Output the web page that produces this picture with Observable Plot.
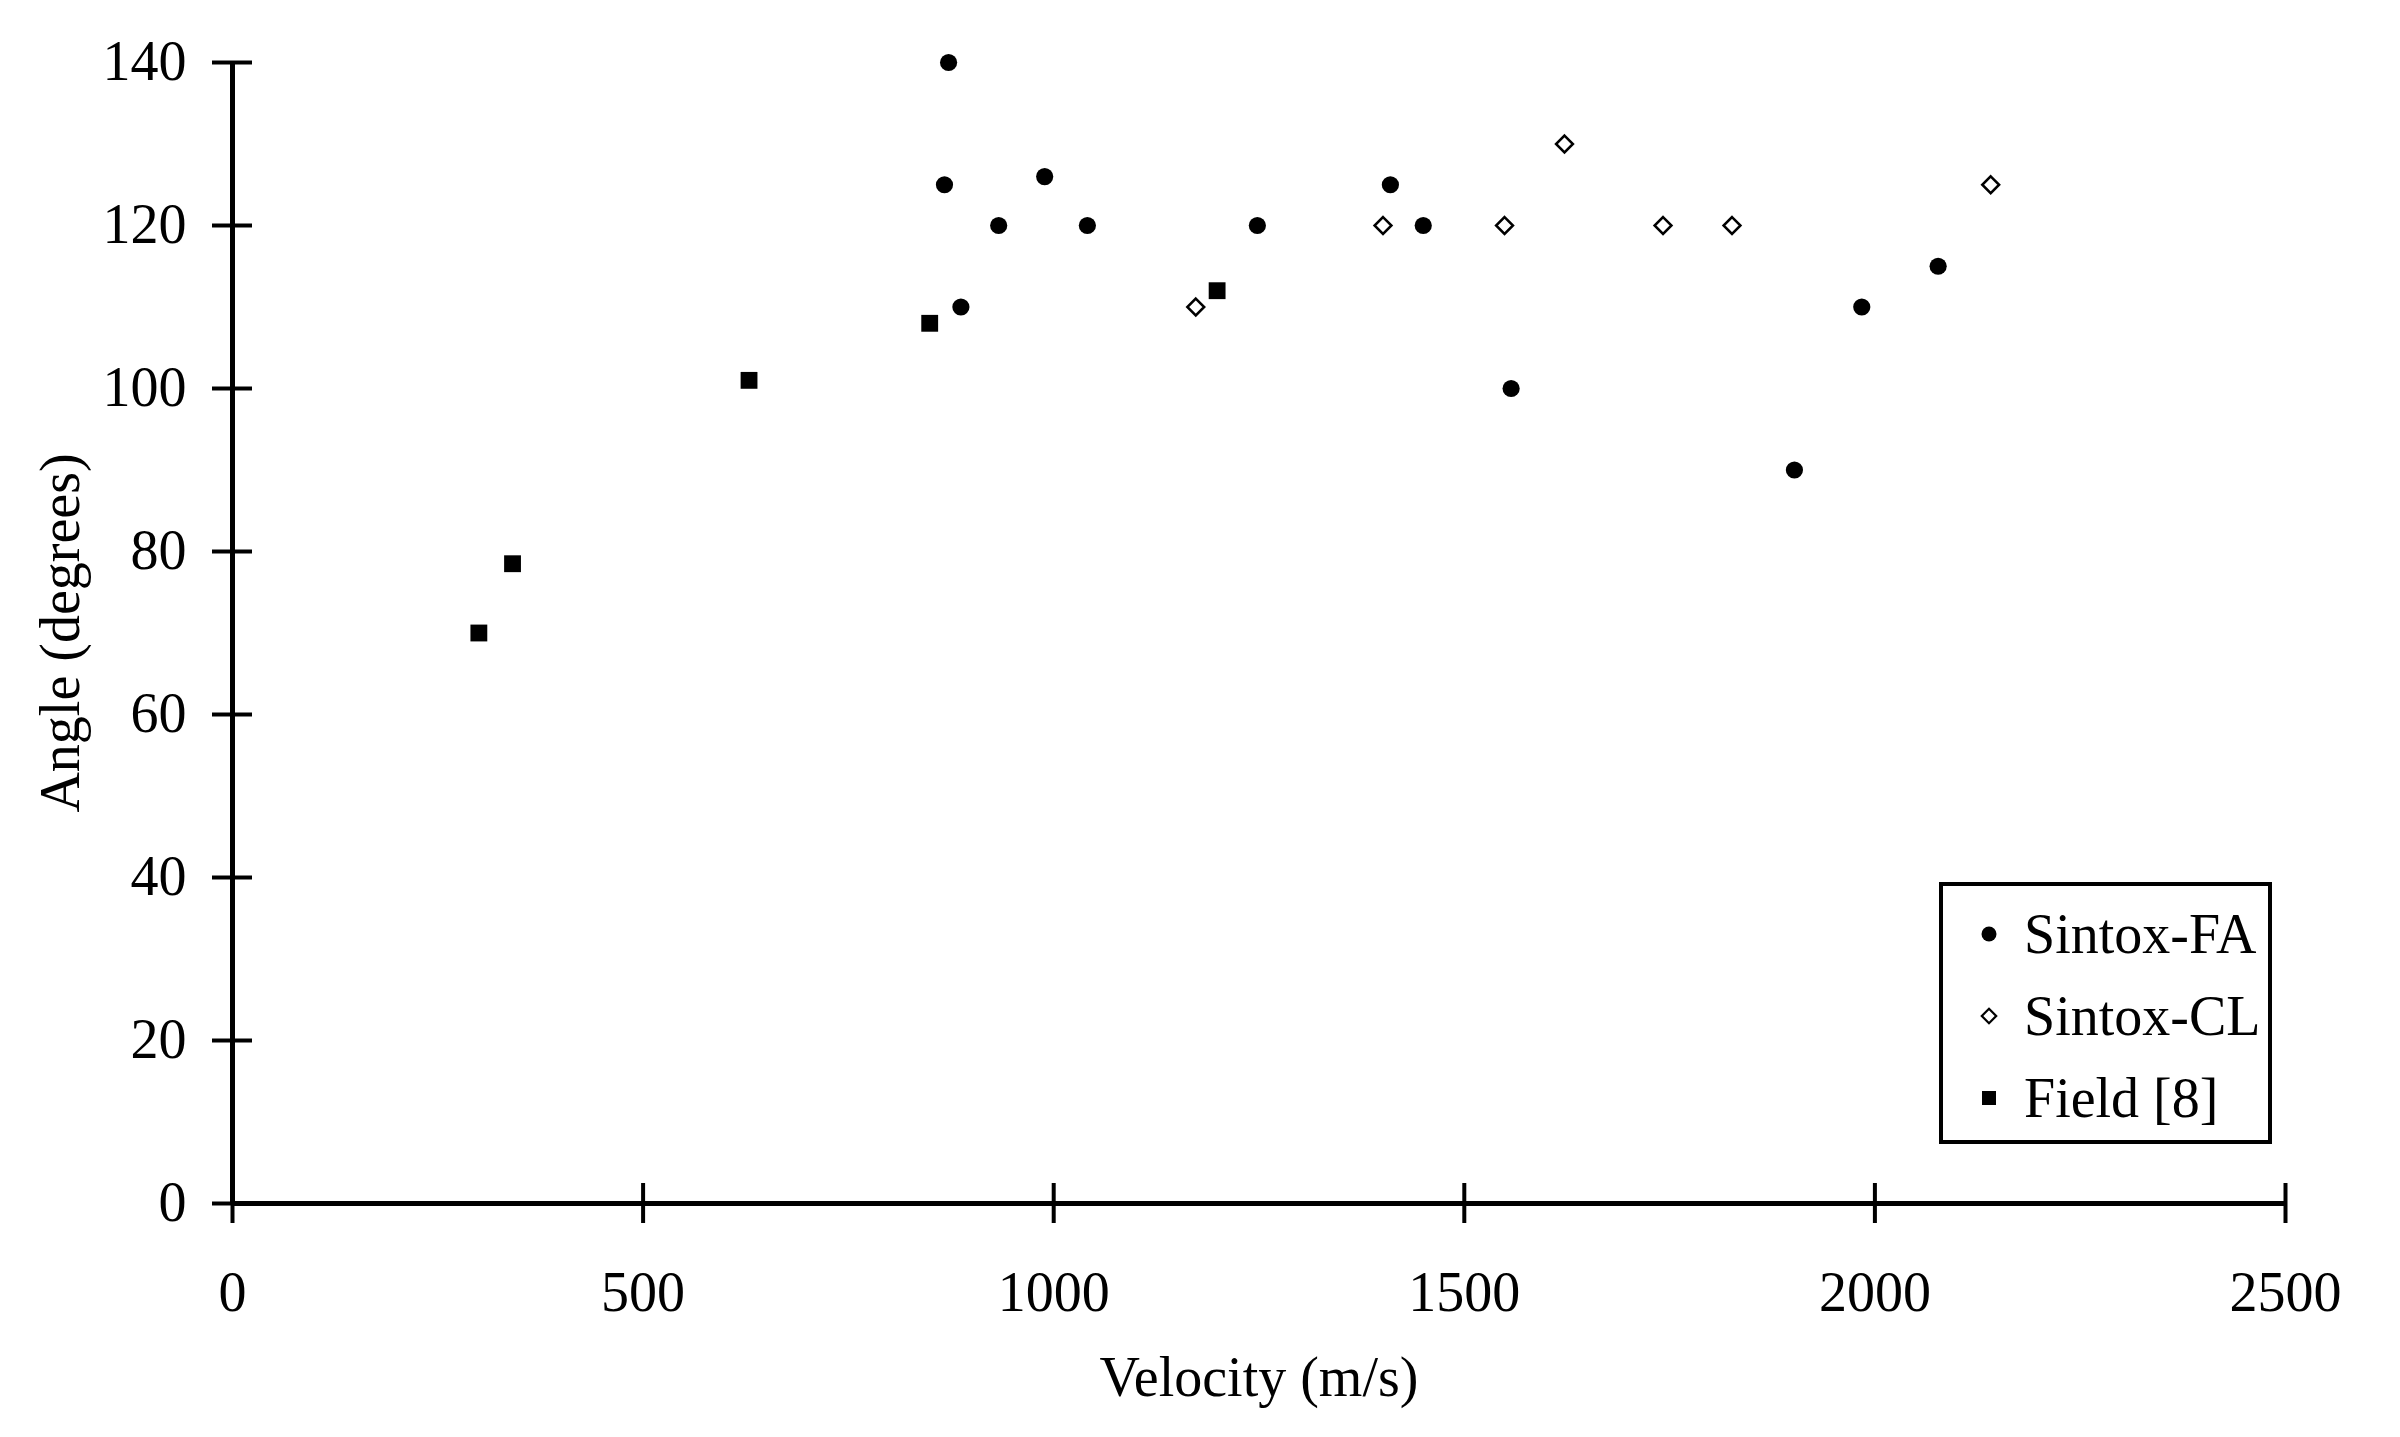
<!DOCTYPE html>
<html>
<head>
<meta charset="utf-8">
<script src="https://cdn.jsdelivr.net/npm/d3@7"></script>
<script src="https://cdn.jsdelivr.net/npm/@observablehq/plot@0.6"></script>
<style>
  html, body { margin: 0; padding: 0; background: #fff; }
  #wrap { position: relative; width: 2400px; height: 1437px; font-family: "Liberation Serif", "Times New Roman", serif; }
  #wrap svg { overflow: visible; }
  #legend { position: absolute; left: 1939px; top: 882px; width: 325px; height: 247px; padding-top: 7px;
            border: 4px solid #000; background: #fff; }
  #legend .row { height: 82px; display: flex; align-items: center; font-size: 56px; line-height: 82px; color: #000; }
  #legend .row svg { margin-left: 34px; margin-right: 23px; }
</style>
</head>
<body>
<div id="wrap"></div>
<script>
// ---- data ----
const seriesNames = ["Sintox-FA", "Sintox-CL", "Field [8]"];

const faVelocity = [872, 867, 887, 933, 989, 1041, 1248, 1410, 1450, 1557, 1902, 1984, 2077];
const faAngle    = [140, 125, 110, 120, 126, 120, 120, 125, 120, 100, 90, 110, 115];

const clVelocity = [1173, 1401, 1549, 1622, 1742, 1826, 2141];
const clAngle    = [110, 120, 120, 130, 120, 120, 125];

const fieldVelocity = [300, 341, 629, 849, 1199];
const fieldAngle    = [70, 78.5, 101, 108, 112];

const xTicks = [0, 500, 1000, 1500, 2000, 2500];
const yTicks = [0, 20, 40, 60, 80, 100, 120, 140];

const xLabel = "Velocity (m/s)";
const yLabel = "Angle (degrees)";

// ---- build tables ----
const fa = faVelocity.map((v, i) => ({series: seriesNames[0], v, a: faAngle[i]}));
const cl = clVelocity.map((v, i) => ({series: seriesNames[1], v, a: clAngle[i]}));
const field = fieldVelocity.map((v, i) => ({series: seriesNames[2], v, a: fieldAngle[i]}));

const FONT = "Liberation Serif, Times New Roman, serif";

const chart = Plot.plot({
  width: 2400,
  height: 1437,
  marginLeft: 232,
  marginRight: 115,
  marginTop: 62,
  marginBottom: 234,
  style: {fontFamily: FONT, fontSize: "56px", color: "#000", background: "#fff", overflow: "visible"},
  x: {domain: [0, 2500]},
  y: {domain: [0, 140]},
  marks: [
    Plot.ruleY([0], {stroke: "#000", strokeWidth: 5}),
    Plot.ruleX([0], {stroke: "#000", strokeWidth: 5}),
    Plot.axisX(xTicks, {tickSize: 20, tickPadding: 48, strokeWidth: 4, tickFormat: d => String(d), label: null, fontSize: 56}),
    Plot.axisX(xTicks, {tickSize: -20, strokeWidth: 4, fill: "none", label: null}),
    Plot.axisY(yTicks, {tickSize: 20, tickPadding: 26, strokeWidth: 4, tickFormat: d => String(d), label: null, fontSize: 56}),
    Plot.axisY(yTicks, {tickSize: -20, strokeWidth: 4, fill: "none", label: null}),
    Plot.dot(fa, {x: "v", y: "a", symbol: "circle", r: 8.6, fill: "#000", stroke: "none"}),
    Plot.dot(cl, {x: "v", y: "a", symbol: "diamond2", r: 7.6, fill: "#fff", stroke: "#000", strokeWidth: 2.5}),
    Plot.dot(field, {x: "v", y: "a", symbol: "square", r: 9.5, fill: "#000", stroke: "none"}),
    Plot.text([xLabel], {frameAnchor: "bottom", dy: 175, fontSize: 56, lineAnchor: "middle", textAnchor: "middle", fill: "#000"}),
    Plot.text([yLabel], {frameAnchor: "left", dx: -171, rotate: -90, fontSize: 56, lineAnchor: "middle", textAnchor: "middle", fill: "#000"})
  ]
});

const wrap = document.getElementById("wrap");
wrap.appendChild(chart);

// ---- legend (inside plot area, lower right) ----
const legend = document.createElement("div");
legend.id = "legend";
const legendSymbols = [
  {type: d3.symbolCircle, size: Math.PI * 7.5 * 7.5, fill: "#000", stroke: "none", sw: 0},
  {type: d3.symbolDiamond2, size: Math.pow(7.2 / 0.62625, 2), fill: "#fff", stroke: "#000", sw: 2.2},
  {type: d3.symbolSquare, size: 14 * 14, fill: "#000", stroke: "none", sw: 0}
];
seriesNames.forEach((name, i) => {
  const row = document.createElement("div");
  row.className = "row";
  const s = legendSymbols[i];
  const svg = d3.create("svg").attr("width", 24).attr("height", 24).attr("viewBox", "-12 -12 24 24");
  svg.append("path").attr("d", d3.symbol(s.type, s.size)()).attr("fill", s.fill).attr("stroke", s.stroke).attr("stroke-width", s.sw);
  row.appendChild(svg.node());
  const span = document.createElement("span");
  span.textContent = name;
  row.appendChild(span);
  legend.appendChild(row);
});
wrap.appendChild(legend);
</script>
</body>
</html>
